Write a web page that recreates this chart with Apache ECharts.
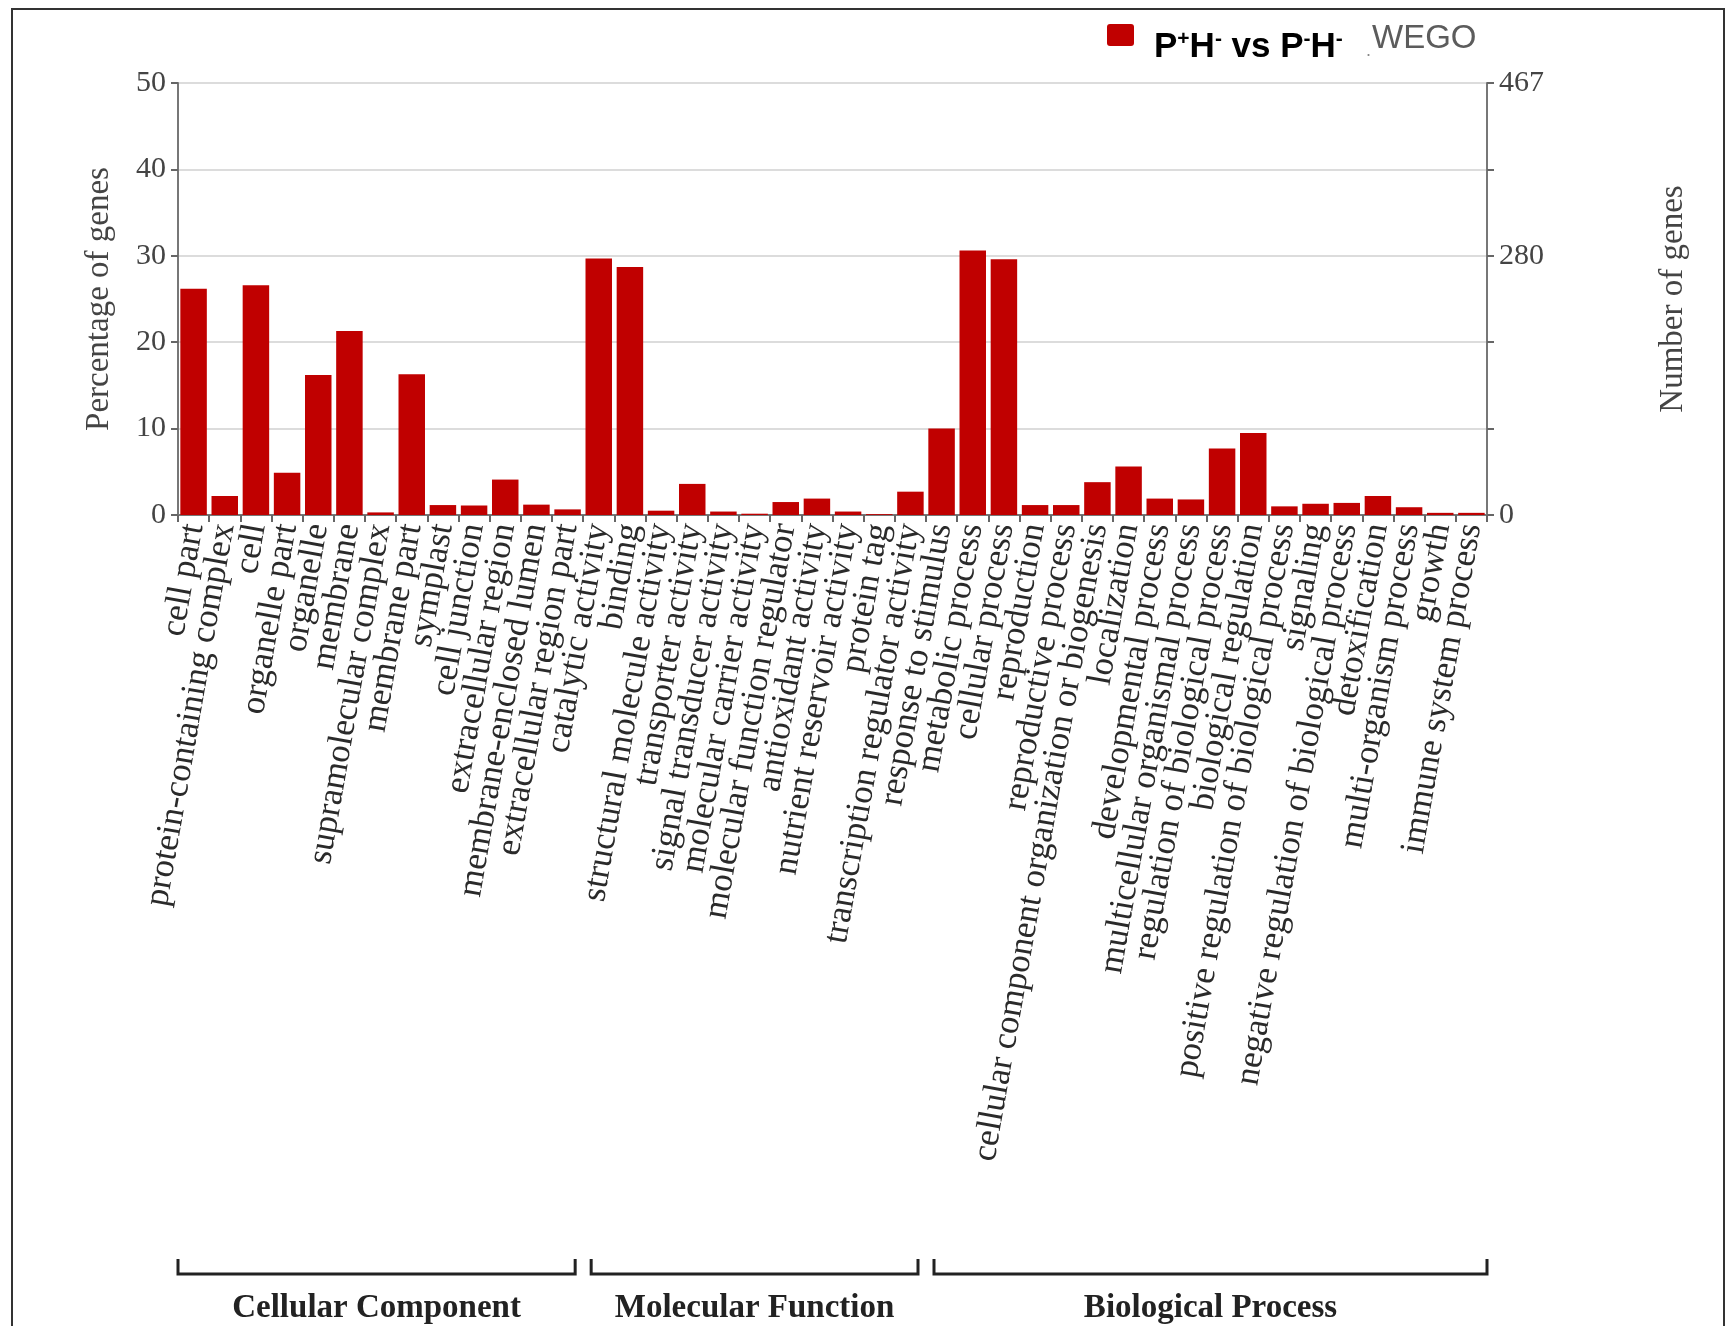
<!DOCTYPE html>
<html>
<head>
<meta charset="utf-8">
<script src="https://cdn.jsdelivr.net/npm/echarts@6/dist/echarts.min.js"></script>
<style>
html,body{margin:0;padding:0;background:#fff;}
#chart{width:1727px;height:1326px;}
</style>
</head>
<body>
<div id="chart"></div>
<script>
const categories = [
  'cell part','protein-containing complex','cell','organelle part','organelle','membrane',
  'supramolecular complex','membrane part','symplast','cell junction','extracellular region',
  'membrane-enclosed lumen','extracellular region part',
  'catalytic activity','binding','structural molecule activity','transporter activity',
  'signal transducer activity','molecular carrier activity','molecular function regulator',
  'antioxidant activity','nutrient reservoir activity','protein tag','transcription regulator activity',
  'response to stimulus','metabolic process','cellular process','reproduction','reproductive process',
  'cellular component organization or biogenesis','localization','developmental process',
  'multicellular organismal process','regulation of biological process','biological regulation',
  'positive regulation of biological process','signaling','negative regulation of biological process',
  'detoxification','multi-organism process','growth','immune system process'
];
const percentages = [
  26.2, 2.2, 26.6, 4.9, 16.2, 21.3, 0.3, 16.3, 1.15, 1.1, 4.1, 1.2, 0.65,
  29.7, 28.7, 0.5, 3.6, 0.4, 0.15, 1.5, 1.9, 0.4, 0.1, 2.7,
  10.0, 30.6, 29.6, 1.15, 1.15, 3.8, 5.6, 1.9, 1.8, 7.7, 9.5, 1.0, 1.3, 1.4, 2.2, 0.9, 0.25, 0.25
];
const groupNames = ['Cellular Component', 'Molecular Function', 'Biological Process'];
const groupSizes = [13, 11, 18];
const leftTicks = [0, 10, 20, 30, 40, 50];
const totalGenes = 467;
const rightLabeledTicks = [0, 280, 467];
const seriesName = 'P+H- vs P-H-';
const watermark = 'WEGO';

const SERIF = '"Liberation Serif", "Times New Roman", serif';
const SANS = '"Liberation Sans", Arial, sans-serif';
const BAR_COLOR = '#c00000';

const chart = echarts.init(document.getElementById('chart'), null, {renderer: 'canvas'});
const pctMax = leftTicks[leftTicks.length - 1];

chart.setOption({
  animation: false,
  backgroundColor: '#fff',
  legend: {show: false, data: [seriesName]},
  grid: {left: 178, right: 240, top: 83, bottom: 811, show: true, borderColor: '#888', borderWidth: 2},
  xAxis: {
    type: 'category',
    data: categories,
    axisLine: {lineStyle: {color: '#777', width: 2}},
    axisTick: {show: true, length: 7, lineStyle: {color: '#666', width: 2}},
    axisLabel: {
      interval: 0, rotate: 80, margin: 9,
      fontFamily: SERIF, fontSize: 35, color: '#2a2a2a'
    }
  },
  yAxis: [
    {
      type: 'value', min: 0, max: pctMax, interval: 10,
      name: 'Percentage of genes', nameLocation: 'middle', nameRotate: 90, nameGap: 62,
      nameTextStyle: {fontFamily: SERIF, fontSize: 33, color: '#444'},
      axisLine: {show: true, lineStyle: {color: '#777', width: 2}},
      axisTick: {show: true, length: 7, lineStyle: {color: '#666', width: 2}},
      axisLabel: {fontFamily: SERIF, fontSize: 30, color: '#444', margin: 12},
      splitLine: {show: true, lineStyle: {color: '#dcdcdc', width: 2}}
    },
    {
      type: 'value', min: 0, max: pctMax, interval: 10, position: 'right',
      name: 'Number of genes', nameLocation: 'middle', nameRotate: 90, nameGap: 170,
      nameTextStyle: {fontFamily: SERIF, fontSize: 33, color: '#444'},
      axisLine: {show: true, lineStyle: {color: '#777', width: 2}},
      axisTick: {show: true, length: 7, lineStyle: {color: '#666', width: 2}},
      axisLabel: {
        fontFamily: SERIF, fontSize: 30, color: '#444', margin: 12,
        formatter: function (v) {
          const g = Math.round(v / pctMax * totalGenes);
          return rightLabeledTicks.indexOf(g) >= 0 ? String(g) : '';
        }
      },
      splitLine: {show: false}
    }
  ],
  series: [{
    name: seriesName,
    type: 'bar',
    data: percentages,
    barCategoryGap: '15%',
    itemStyle: {color: BAR_COLOR}
  }]
});

// Brackets and group labels positioned from the category axis
const c0 = chart.convertToPixel({xAxisIndex: 0}, 0);
const c1 = chart.convertToPixel({xAxisIndex: 0}, 1);
const band = c1 - c0;
const elements = [
  {type: 'rect', shape: {x: 12, y: 9, width: 1712, height: 1400}, style: {fill: 'none', stroke: '#333', lineWidth: 2}, silent: true},
  // legend
  {type: 'rect', shape: {x: 1107, y: 24, width: 27, height: 22, r: 3}, style: {fill: BAR_COLOR}},
  {type: 'text', x: 1154, y: 47, style: {
    text: '{b|P}{s|+}{b|H}{s|-}{b| vs P}{s|-}{b|H}{s|-}',
    textVerticalAlign: 'middle',
    rich: {
      b: {font: 'bold 35px ' + SANS, fill: '#000', lineHeight: 36},
      s: {font: 'bold 21px ' + SANS, fill: '#000', lineHeight: 36, verticalAlign: 'top'}
    }
  }},
  {type: 'text', x: 1366, y: 42, style: {text: '.', font: '18px ' + SANS, fill: '#888'}},
  {type: 'text', x: 1372, y: 22, style: {text: watermark, font: '33px ' + SANS, fill: '#5c5c5c'}}
];
let start = 0;
const yTop = 1259, yLine = 1274;
groupSizes.forEach(function (n, gi) {
  const leftB = c0 - band / 2 + start * band;
  const rightB = c0 - band / 2 + (start + n) * band;
  const x0 = leftB + (gi > 0 ? 8 : 0);
  const x1 = rightB - (gi < groupSizes.length - 1 ? 8 : 0);
  elements.push({
    type: 'polyline',
    shape: {points: [[x0, yTop], [x0, yLine], [x1, yLine], [x1, yTop]]},
    style: {stroke: '#222', lineWidth: 3, fill: 'none'}
  });
  elements.push({
    type: 'text', x: (x0 + x1) / 2, y: 1308,
    style: {text: groupNames[gi], font: 'bold 33px ' + SERIF, fill: '#222', textAlign: 'center', textVerticalAlign: 'middle'}
  });
  start += n;
});
chart.setOption({graphic: {elements: elements}});
</script>
</body>
</html>
